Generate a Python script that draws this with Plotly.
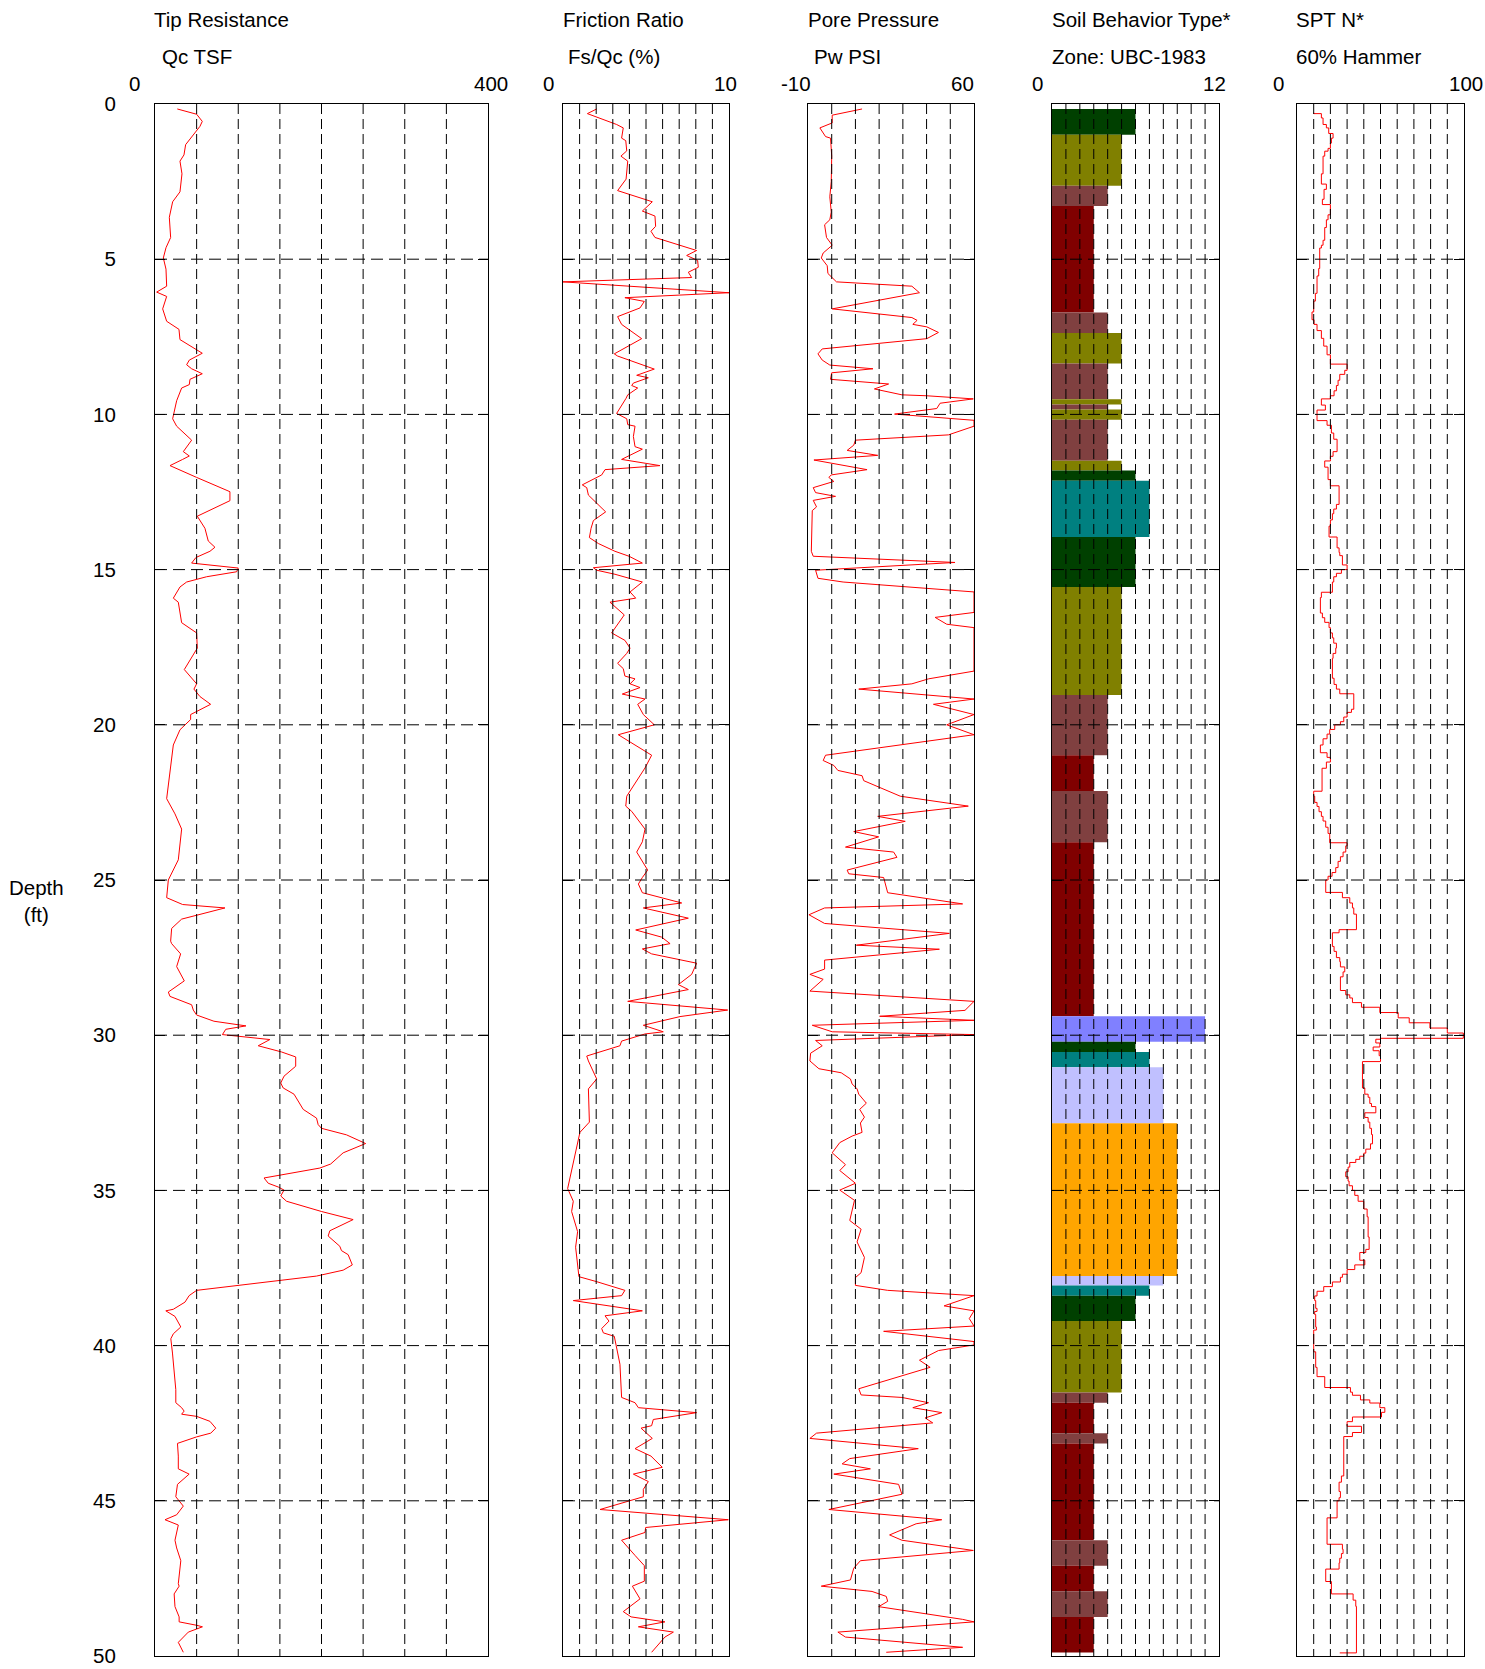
import plotly.graph_objects as go

W, H = 1485, 1669
FONT = "Liberation Sans, Arial, sans-serif"
FS = 20.5

# ---------------- data ----------------
depth_ticks = [0, 5, 10, 15, 20, 25, 30, 35, 40, 45, 50]

# Tip resistance Qc (TSF): (depth ft, value)
qc_log = [
    (0.16, 26.8), (0.33, 50), (0.56, 56.8), (0.72, 54), (1.31, 36.8), (1.64, 34.8), (1.84, 30),
    (2.25, 32.4), (2.83, 30), (2.99, 26), (3.15, 21.2), (3.65, 17.2), (4.3, 18.8), (4.63, 13.2),
    (4.96, 10), (5.32, 13.2), (5.87, 14), (6.06, 2), (6.2, 14), (6.6, 9.2), (7.0, 14), (7.26, 28.8),
    (7.59, 30), (8.03, 56.8), (8.25, 41.2), (8.4, 38), (8.53, 44), (8.69, 56.8), (8.87, 42),
    (9.04, 41.2), (9.15, 32), (9.56, 26), (10.14, 21.2), (10.38, 26), (10.83, 44), (11.2, 34),
    (11.34, 41.2), (11.45, 33.2), (11.65, 18), (12.03, 50), (12.49, 90), (12.78, 90), (13.28, 50.8),
    (13.67, 60), (14.08, 64), (14.28, 72), (14.41, 66), (14.61, 49.2), (14.79, 44), (14.95, 100),
    (15.07, 98), (15.23, 62), (15.4, 38), (15.56, 30), (15.92, 22), (16.05, 28), (16.71, 32),
    (17.04, 50), (17.53, 50.8), (18.22, 35.2), (18.68, 50), (18.85, 46.8), (19.09, 54), (19.34, 66.8),
    (19.67, 42.8), (19.83, 42.8), (20.16, 30), (20.65, 22), (22.38, 14), (22.87, 24), (23.36, 32),
    (24.35, 28), (24.68, 22), (25.0, 16), (25.57, 14), (25.79, 33.2), (25.9, 84), (26.26, 32),
    (26.56, 20), (26.97, 18.8), (27.05, 20), (27.38, 30.8), (27.79, 26), (28.25, 35.2), (28.61, 16),
    (28.75, 18), (29.02, 44), (29.19, 46), (29.35, 50), (29.55, 70.8), (29.7, 109.2), (29.81, 85),
    (29.98, 81), (30.14, 138), (30.34, 124), (30.54, 152), (30.7, 169), (31.0, 169), (31.32, 155),
    (31.54, 151), (31.7, 154), (31.9, 167), (32.39, 178), (32.67, 194), (32.88, 196), (33.0, 200),
    (33.21, 230), (33.49, 253), (33.79, 226), (34.15, 211), (34.28, 198), (34.6, 131), (34.77, 136),
    (34.89, 148), (34.99, 155), (35.18, 151), (35.35, 158), (35.68, 200), (35.94, 238), (36.3, 210),
    (36.47, 208), (36.8, 222), (36.94, 224), (37.07, 232), (37.4, 237), (37.57, 226), (37.76, 194),
    (38.06, 102), (38.22, 50), (38.39, 41), (38.6, 36), (38.83, 22), (38.88, 13), (39.06, 24),
    (39.4, 31), (39.62, 22), (39.78, 19), (40.24, 21), (40.85, 23), (41.42, 25), (41.84, 25),
    (42.0, 32), (42.11, 35), (42.21, 32), (42.28, 50), (42.44, 66), (42.66, 73), (42.82, 67),
    (42.94, 50), (43.15, 27), (43.56, 28), (43.97, 28), (44.14, 41), (44.47, 27), (44.87, 25),
    (45.17, 34), (45.45, 26), (45.61, 12), (45.78, 28), (46.27, 24), (46.52, 26), (46.93, 31),
    (47.67, 28), (47.75, 29), (48.0, 23), (48.41, 24), (48.74, 29), (48.9, 29), (49.01, 50),
    (49.06, 57), (49.23, 40), (49.56, 28), (49.88, 34),
]

# Friction ratio Fs/Qc (%)
fr_log = [
    (0.16, 2.03), (0.31, 1.47), (0.66, 3.23), (0.77, 3.63), (1.1, 3.53), (1.18, 3.78), (1.51, 3.84),
    (1.68, 3.49), (1.84, 3.9), (2.42, 3.8), (2.79, 3.29), (3.15, 5.38), (3.45, 4.78), (3.61, 5.54),
    (3.94, 5.58), (4.1, 5.3), (4.3, 5.54), (4.47, 6.55), (4.72, 8.05), (4.88, 7.45), (5.04, 8.11),
    (5.26, 8.15), (5.42, 7.55), (5.59, 7.75), (5.73, 0.0), (6.08, 10.0), (6.24, 3.73), (6.36, 4.9),
    (6.57, 4.64), (6.85, 3.29), (7.1, 3.53), (7.56, 4.74), (8.05, 3.09), (8.12, 3.29), (8.54, 5.5),
    (8.74, 4.44), (8.82, 5.14), (8.99, 4.24), (9.07, 4.14), (9.15, 4.5), (9.37, 3.9), (9.48, 3.8),
    (9.97, 3.23), (10.14, 3.84), (10.33, 3.9), (10.38, 4.34), (10.71, 4.24), (11.04, 4.34),
    (11.12, 4.78), (11.45, 3.53), (11.65, 5.84), (11.78, 2.53), (11.95, 2.33), (12.27, 1.16),
    (12.36, 1.43), (12.6, 1.53), (12.85, 2.03), (13.14, 2.57), (13.42, 1.83), (13.67, 1.69),
    (13.97, 1.59), (14.16, 2.13), (14.41, 3.13), (14.57, 3.98), (14.79, 4.78), (14.94, 1.83),
    (15.02, 2.03), (15.15, 3.13), (15.4, 4.78), (15.72, 4.04), (15.92, 4.38), (16.05, 2.83),
    (16.46, 3.69), (17.04, 2.93), (17.28, 3.73), (17.53, 4.04), (17.7, 3.84), (18.02, 3.29),
    (18.19, 3.63), (18.43, 3.73), (18.52, 4.34), (18.68, 4.04), (18.8, 4.64), (19.01, 3.57),
    (19.17, 4.94), (19.34, 4.5), (19.67, 4.84), (20.0, 5.5), (20.32, 3.33), (20.98, 5.34),
    (21.39, 4.94), (21.89, 4.34), (22.3, 3.84), (22.62, 3.78), (22.79, 4.14), (23.36, 4.94),
    (23.77, 4.78), (24.1, 4.44), (24.68, 5.1), (24.92, 4.78), (25.13, 4.54), (25.41, 4.78),
    (25.74, 7.15), (25.9, 4.84), (26.23, 7.55), (26.61, 4.38), (26.84, 5.94), (27.05, 6.45),
    (27.22, 4.78), (27.38, 5.34), (27.68, 8.05), (28.04, 7.75), (28.37, 6.95), (28.53, 7.55),
    (28.91, 3.9), (29.19, 9.92), (29.4, 7.05), (29.68, 4.84), (29.89, 6.04), (29.96, 4.94),
    (30.19, 3.53), (30.34, 3.43), (30.67, 1.43), (30.83, 1.53), (31.41, 2.03), (31.73, 1.53),
    (32.8, 1.59), (33.13, 1.02), (33.62, 0.82), (34.03, 0.68), (34.94, 0.28), (35.35, 0.62),
    (35.68, 0.52), (36.33, 0.88), (36.83, 0.76), (37.78, 0.96), (37.94, 2.03), (38.22, 3.73),
    (38.39, 3.53), (38.55, 0.62), (38.88, 4.78), (39.04, 2.53), (39.21, 2.77), (39.45, 2.33),
    (39.59, 2.43), (39.7, 3.09), (40.11, 3.23), (40.6, 3.43), (41.67, 3.53), (41.84, 4.34),
    (42.0, 4.54), (42.16, 8.05), (42.38, 5.44), (42.58, 5.34), (42.66, 4.7), (42.99, 5.38),
    (43.32, 4.34), (43.56, 5.3), (43.92, 5.98), (44.14, 4.24), (44.38, 5.14), (44.63, 4.84),
    (44.87, 4.84), (45.28, 2.23), (45.61, 9.96), (45.86, 4.98), (46.02, 4.94), (46.27, 3.53),
    (46.76, 4.34), (47.09, 4.9), (47.59, 4.9), (47.75, 4.18), (48.16, 4.64), (48.57, 3.63),
    (48.74, 4.1), (48.9, 6.14), (49.06, 4.54), (49.23, 6.65), (49.39, 6.14), (49.88, 5.34),
]

# Pore pressure Pw (PSI)
pw_log = [
    (0.16, 12.8), (0.36, 0.2), (0.61, 0.2), (0.77, -5), (1.05, -2.6), (1.1, -0.5), (1.68, 0),
    (2.5, -0.2), (2.99, -0.8), (3.48, -0.2), (3.73, -0.8), (3.89, -3), (4.3, -2.2), (4.55, 0.2),
    (4.8, -3.6), (4.96, -4.4), (5.21, -1.9), (5.46, -1.6), (5.73, 2), (5.87, 33.8), (6.08, 37),
    (6.6, 0.2), (6.88, 33.8), (6.97, 36), (7.1, 34.2), (7.18, 40.1), (7.36, 45), (7.56, 40.1),
    (7.89, -4), (8.05, -5.8), (8.25, -4), (8.41, -0.8), (8.53, 17.4), (8.66, 0), (8.87, -0.5),
    (9.02, 24), (9.18, 18), (9.37, 29.6), (9.4, 40.1), (9.5, 59.7), (9.64, 45.7), (9.81, 44.3),
    (9.99, 26.5), (10.19, 60), (10.38, 60), (10.66, 49.2), (10.83, 10), (10.99, 9.3), (11.16, 6.5),
    (11.2, 10), (11.32, 19.4), (11.47, -7.5), (11.78, 14.9), (11.95, -0.2), (12.03, -1.2),
    (12.16, 0.9), (12.36, -7.8), (12.52, -6.8), (12.64, 1.6), (12.77, -7.8), (12.98, -6.4),
    (13.1, -8.2), (14.41, -8.6), (14.57, -7.8), (14.77, 52), (15.02, -6.8), (15.28, -5.8),
    (15.4, 4.8), (15.72, 60), (16.38, 60), (16.54, 43.6), (16.76, 48.5), (16.87, 60), (18.27, 60),
    (18.52, 40.8), (18.68, 33.8), (18.85, 11.4), (19.17, 60), (19.34, 42.9), (19.67, 60),
    (20.0, 48.5), (20.32, 60), (20.98, -2.6), (21.15, -3.6), (21.31, 0.9), (21.47, 2.6),
    (21.64, 12.8), (21.8, 13.5), (22.3, 28.9), (22.62, 57.6), (22.95, 19.4), (23.11, 31),
    (23.44, 9.3), (23.61, 19.8), (23.94, 5.8), (24.1, 26.1), (24.27, 27.5), (24.68, 6.5),
    (24.8, 7.2), (24.92, 21.9), (25.16, 22.6), (25.41, 23.6), (25.77, 55.2), (25.9, -3),
    (26.12, -9.6), (26.4, -3), (26.72, 49.6), (27.1, 10.4), (27.23, 45.4), (27.58, -3),
    (27.87, -3), (28.04, -9.2), (28.2, -3.6), (28.58, -9.2), (28.91, 60), (29.2, 56.2),
    (29.39, 20.2), (29.52, 60), (29.68, -8.2), (29.89, 0.2), (29.98, 60), (30.17, -6.8),
    (30.34, -4), (30.58, -8.9), (30.83, -9.2), (31.08, -5.4), (31.21, 4), (31.41, 7.9),
    (31.57, 8.6), (31.73, 10.7), (31.9, 11.4), (32.19, 14.6), (32.39, 11.8), (32.64, 13.8),
    (32.83, 12.1), (33.13, 12.8), (33.25, 8.6), (33.46, 3.4), (33.79, 0.2), (34.17, 5.8),
    (34.36, 3.4), (34.77, 10), (34.99, 3.4), (35.32, 9.6), (35.97, 7.6), (36.25, 12.4),
    (36.66, 10.7), (37.16, 13.8), (37.65, 12.4), (37.81, 10), (38.06, 10), (38.22, 23.6),
    (38.39, 60), (38.72, 47.4), (38.88, 60), (39.13, 58), (39.37, 60), (39.54, 21.9), (39.87, 60),
    (39.98, 60), (40.16, 45), (40.47, 37), (40.7, 41.5), (41.39, 11.4), (41.59, 12.4),
    (41.67, 29.6), (41.84, 40.8), (42.0, 34.2), (42.16, 46.4), (42.33, 39.4), (42.49, 42.6),
    (42.82, -6.4), (42.99, -9.2), (43.32, 36.5), (43.64, 7.6), (43.81, 4.4), (43.97, 16.3),
    (44.14, 0.9), (44.47, 28.2), (44.79, 29.6), (45.28, -1.2), (45.61, 46.4), (45.74, 35.6),
    (46.1, 24.4), (46.27, 29.6), (46.6, 59.7), (46.93, 12.1), (47.17, 9.3), (47.55, 7.9),
    (47.75, -4.4), (47.92, 17), (48.08, 23), (48.24, 23.6), (48.41, 19.8), (48.82, 55.2),
    (48.9, 60), (49.23, 2.6), (49.39, 5.8), (49.72, 55.2), (49.88, 23),
]

# Soil behaviour type layers (UBC-1983 zones)
sbt_top = [0.16, 0.99, 2.63, 3.29, 6.72, 7.38, 8.36, 9.51, 9.68, 9.84,
           10.17, 11.49, 11.81, 12.14, 13.95, 15.56, 19.04, 20.98, 22.13, 23.78,
           29.39, 30.21, 30.54, 31.03, 32.84, 37.76, 38.06, 38.39, 39.21, 41.51,
           41.84, 42.82, 43.15, 46.27, 47.09, 47.91, 48.74]
sbt_bottom = sbt_top[1:] + [49.89]
sbt_zone = [6, 5, 4, 3, 4, 5, 4, 5, 4, 5,
            4, 5, 6, 7, 6, 5, 4, 3, 4, 3,
            11, 6, 7, 8, 9, 8, 7, 6, 5, 4,
            3, 4, 3, 4, 3, 4, 3]
zone_colors = {3: "#800000", 4: "#804040", 5: "#808000", 6: "#004000",
               7: "#008080", 8: "#c0c0ff", 9: "#ffa500", 11: "#8080ff"}

# SPT N* (60% hammer): (top of interval ft, N)
spt_log = [
    (0.28, 10), (0.31, 14.6), (0.45, 15.6), (0.66, 17.6), (0.77, 19), (0.95, 21.6), (1.1, 20.6),
    (1.26, 20), (1.43, 18.6), (1.52, 16.6), (1.68, 15.6), (2.25, 14.6), (2.58, 17.6), (2.75, 16.2),
    (3.07, 15.2), (3.24, 20), (3.57, 18.6), (3.73, 17.6), (3.98, 16.6), (4.39, 15.6), (4.55, 14.6),
    (4.64, 13.6), (5.3, 13), (5.54, 12), (6.1, 11), (6.35, 10), (6.7, 9), (6.95, 10.2), (7.1, 12),
    (7.3, 14.6), (7.55, 16), (7.8, 18), (8.08, 20), (8.38, 30), (8.58, 28.6), (8.71, 25.6),
    (8.9, 24.6), (9.07, 23.6), (9.24, 22.2), (9.4, 20), (9.5, 14.6), (9.7, 17), (9.86, 12),
    (10.2, 18), (10.35, 20.6), (10.6, 22), (10.8, 24), (11.2, 21.6), (11.35, 20), (11.5, 16.6),
    (11.7, 18.6), (12.1, 20), (12.3, 25.2), (12.9, 23.6), (13.05, 22), (13.2, 21.2), (13.4, 20),
    (13.6, 19.2), (13.95, 24), (14.3, 25.2), (14.45, 25.6), (14.55, 27.2), (14.85, 30), (15.0, 26.6),
    (15.12, 23.6), (15.23, 22), (15.4, 21.2), (15.73, 14.6), (15.9, 14), (16.4, 15.2), (16.55, 16.6),
    (16.7, 19.2), (16.87, 20), (17.04, 21.2), (17.2, 22), (17.37, 23.6), (17.53, 23.2), (17.7, 21.6),
    (17.86, 21.2), (18.5, 22.2), (18.7, 23.6), (18.85, 25.6), (19.0, 34), (19.5, 32.6), (19.6, 30),
    (19.75, 28), (19.9, 26), (20.0, 22.6), (20.15, 19.6), (20.3, 18), (20.45, 15.6), (20.65, 14),
    (20.9, 18), (21.05, 20), (21.2, 17.6), (21.4, 15), (22.14, 10), (22.3, 10.6), (22.5, 12),
    (22.63, 13.2), (22.8, 14.6), (22.95, 15.6), (23.1, 17.2), (23.3, 18.6), (23.5, 19.6), (23.8, 30),
    (23.9, 29.2), (24.1, 27.6), (24.25, 26), (24.4, 24.6), (24.6, 23.2), (24.76, 21), (24.88, 18.6),
    (25.0, 17.2), (25.4, 27.2), (25.57, 31.6), (25.74, 33.2), (25.9, 34), (26.1, 35.6), (26.6, 25.2),
    (26.7, 21.2), (27.14, 22.2), (27.3, 23.6), (27.5, 25.6), (27.63, 26), (27.8, 28.6), (27.96, 27.6),
    (28.12, 26), (28.56, 29.2), (28.7, 31.6), (28.8, 33.2), (28.95, 38.6), (29.1, 49.6), (29.27, 60.6),
    (29.44, 67.2), (29.6, 79.6), (29.77, 90), (29.93, 99.6), (30.1, 50), (30.13, 47.2), (30.25, 49.6),
    (30.38, 45.6), (30.5, 49.2), (30.66, 50), (30.85, 39.2), (31.7, 40.6), (31.9, 42.6), (32.0, 43.6),
    (32.2, 44.6), (32.3, 47.2), (32.5, 40.6), (32.65, 42.6), (32.8, 43.6), (33.0, 44.6), (33.2, 45.2),
    (33.5, 44), (33.67, 41.2), (33.8, 40), (33.9, 37.6), (34.0, 35.2), (34.1, 31.6), (34.25, 30.6),
    (34.4, 29.2), (34.56, 30.6), (34.7, 31.2), (34.85, 33.2), (35.0, 34.6), (35.16, 36.6), (35.35, 40),
    (35.6, 42), (35.85, 42.6), (36.5, 43.2), (36.9, 41.2), (37.0, 37.6), (37.25, 40.6), (37.4, 34.6),
    (37.55, 30), (37.7, 27.2), (37.8, 26), (37.95, 21.2), (38.1, 16), (38.25, 12), (38.4, 10.6),
    (38.55, 11.2), (38.8, 12), (38.9, 10.6), (39.0, 11.2), (39.4, 11.6), (39.5, 10), (40.2, 11.2),
    (40.7, 12), (41.0, 16.6), (41.35, 32), (41.5, 33.2), (41.6, 38), (41.75, 43.6), (41.85, 49.6),
    (42.0, 52.6), (42.15, 50.6), (42.3, 33.2), (42.45, 30), (42.6, 38.6), (42.8, 33.2), (42.93, 28),
    (44.2, 26.6), (44.4, 25.2), (44.7, 26), (44.9, 25.2), (45.0, 24), (45.55, 18), (46.4, 27.2),
    (46.56, 27.6), (46.7, 26.6), (46.85, 25.6), (47.0, 25.2), (47.2, 17.2), (47.6, 20.6), (48.0, 33.6),
    (48.2, 35.2), (48.4, 35.6), (49.9, 25.6),
]

# ---------------- layout of the five tracks ----------------
# (axis suffix, x range, grid step, left px, right px, header, units, min label, max label)
tracks = [
    ("",  (0, 400), 50, 155, 488, "Tip Resistance", "Qc TSF", "0", "400"),
    ("2", (0, 10), 1, 563, 729, "Friction Ratio", "Fs/Qc (%)", "0", "10"),
    ("3", (-10, 60), 10, 808, 974, "Pore Pressure", "Pw PSI", "-10", "60"),
    ("4", (0, 12), 1, 1052, 1219, "Soil Behavior Type*", "Zone: UBC-1983", "0", "12"),
    ("5", (0, 100), 10, 1297, 1464, "SPT N*", "60% Hammer", "0", "100"),
]
TOP_PX, BOT_PX = 104, 1656
# label anchor positions (px): header x, units x, min label centre, max label right edge
label_pos = [
    (152, 160, 134, 510),
    (561, 566, 548, 739),
    (806, 812, 796, 976),
    (1050, 1050, 1037, 1228),
    (1294, 1294, 1278, 1485),
]


def px_x(p):
    return p / W


def px_y(p):
    return 1 - p / H


fig = go.Figure()
red = dict(color="#ff0000", width=1)

fig.add_trace(go.Scatter(x=[v for d, v in qc_log], y=[d for d, v in qc_log],
                         mode="lines", line=red, xaxis="x", yaxis="y"))
fig.add_trace(go.Scatter(x=[v for d, v in fr_log], y=[d for d, v in fr_log],
                         mode="lines", line=red, xaxis="x2", yaxis="y2"))
fig.add_trace(go.Scatter(x=[v for d, v in pw_log], y=[d for d, v in pw_log],
                         mode="lines", line=red, xaxis="x3", yaxis="y3"))
fig.add_trace(go.Bar(
    orientation="h",
    x=sbt_zone,
    y=[(t + b) / 2 for t, b in zip(sbt_top, sbt_bottom)],
    width=[b - t for t, b in zip(sbt_top, sbt_bottom)],
    base=0,
    marker=dict(color=[zone_colors[z] for z in sbt_zone], line=dict(width=0)),
    xaxis="x4", yaxis="y4",
))
fig.add_trace(go.Scatter(x=[v for d, v in spt_log], y=[d for d, v in spt_log],
                         mode="lines", line=dict(color="#ff0000", width=1, shape="vh"),
                         xaxis="x5", yaxis="y5"))

layout = dict(
    width=W, height=H,
    autosize=False,
    margin=dict(l=0, r=0, t=0, b=0, pad=0),
    paper_bgcolor="white", plot_bgcolor="white",
    showlegend=False,
    font=dict(family=FONT, size=FS, color="black"),
)

shapes = []
annotations = []
y_dom = [px_y(BOT_PX), px_y(TOP_PX)]
for i, (sfx, xr, step, lpx, rpx, head, unit, lo, hi) in enumerate(tracks):
    xname = "xaxis" + sfx
    yname = "yaxis" + sfx
    xref = "x" + sfx
    yref = "y" + sfx
    layout[xname] = dict(
        domain=[px_x(lpx), px_x(rpx)], range=list(xr), anchor=yref, automargin=False,
        showgrid=False, zeroline=False, showticklabels=False, ticks="",
        showline=True, mirror=True, linecolor="black", linewidth=1, fixedrange=True,
    )
    layout[yname] = dict(
        domain=y_dom, range=[50, 0], anchor=xref, automargin=False,
        tickvals=depth_ticks, ticks="inside", ticklen=10, tickcolor="black",
        showgrid=False, zeroline=False,
        showline=True, mirror="ticks", linecolor="black", linewidth=1,
        showticklabels=(i == 0),
        tickfont=dict(size=FS, family=FONT, color="black"),
        ticklabelstandoff=34,
    )
    # dashed grid drawn over the data
    n = int(round((xr[1] - xr[0]) / step))
    for k in range(1, n):
        xv = xr[0] + k * step
        shapes.append(dict(type="line", xref=xref, yref=yref, x0=xv, x1=xv, y0=0, y1=50,
                           layer="above", line=dict(color="black", width=1, dash="10px,5px")))
    for dv in depth_ticks[1:-1]:
        shapes.append(dict(type="line", xref=xref, yref=yref, x0=xr[0], x1=xr[1], y0=dv, y1=dv,
                           layer="above", line=dict(color="black", width=1, dash="12px,6px")))
    hx, ux, lox, hix = label_pos[i]
    annotations += [
        dict(text=head, x=px_x(hx), y=px_y(20), xref="paper", yref="paper",
             xanchor="left", yanchor="middle", showarrow=False),
        dict(text=unit, x=px_x(ux), y=px_y(57), xref="paper", yref="paper",
             xanchor="left", yanchor="middle", showarrow=False),
        dict(text=lo, x=px_x(lox), y=px_y(83), xref="paper", yref="paper",
             xanchor="center", yanchor="middle", showarrow=False),
        dict(text=hi, x=px_x(hix), y=px_y(83), xref="paper", yref="paper",
             xanchor="right", yanchor="middle", showarrow=False),
    ]

annotations.append(dict(text="Depth<br>(ft)", x=px_x(36), y=px_y(901), xref="paper", yref="paper",
                        xanchor="center", yanchor="middle", showarrow=False, align="center"))

layout["shapes"] = shapes
layout["annotations"] = annotations
fig.update_layout(**layout)

fig.write_html("out.html")
